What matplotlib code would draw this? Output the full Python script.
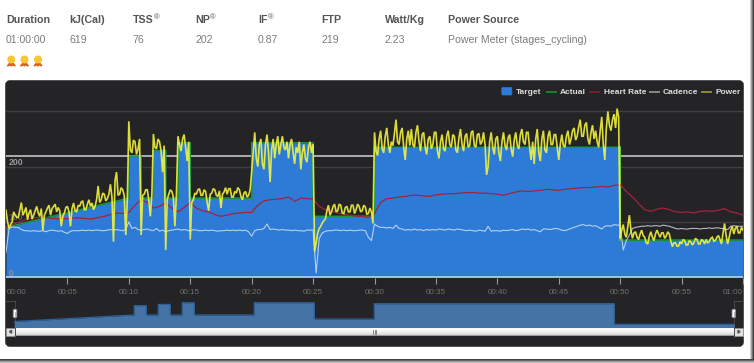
import numpy as np
import matplotlib
matplotlib.use("Agg")
import matplotlib.pyplot as plt
from matplotlib.patches import FancyBboxPatch, Rectangle, Circle, Polygon

plt.rcParams['font.family'] = ['Liberation Sans', 'DejaVu Sans']

# ---- data ----
header_labels = ["Duration", "kJ(Cal)", "TSS", "NP", "IF", "FTP", "Watt/Kg", "Power Source"]
header_reg = [False, False, True, True, True, False, False, False]
header_values = ["01:00:00", "619", "76", "202", "0.87", "219", "2.23", "Power Meter (stages_cycling)"]
xtick_labels = ["00:00", "00:05", "00:10", "00:15", "00:20", "00:25", "00:30",
                "00:35", "00:40", "00:45", "00:50", "00:55", "01:00"]
ytick_values = [0, 100, 200, 300]
ftp = 219

seg_start = [0, 10, 11, 12, 13, 14, 15, 20, 25, 30, 50]
seg_end = [10, 11, 12, 13, 14, 15, 20, 25, 30, 50, 60]
seg_from = [90, 219, 143, 229, 143, 243, 143, 243, 110, 235, 67]
seg_to = [143, 219, 143, 229, 143, 243, 143, 243, 110, 235, 67]

# one value every 7.5 seconds
power = [
    121, 100, 88, 95, 100, 118, 112, 108, 108, 122, 135, 112, 118, 126, 104, 116,
    122, 105, 112, 120, 128, 116, 110, 124, 84, 112, 118, 125, 130, 112, 124, 128,
    132, 118, 126, 120, 92, 110, 116, 126, 128, 118, 92, 124, 134, 120, 118, 130,
    128, 136, 138, 122, 122, 132, 140, 128, 134, 122, 128, 140, 165, 135, 140, 152,
    150, 138, 142, 150, 168, 145, 64, 175, 190, 148, 150, 162, 158, 148, 76, 140,
    282, 230, 225, 248, 245, 222, 232, 250, 76, 148, 150, 158, 158, 140, 110, 150,
    259, 235, 232, 250, 245, 228, 190, 238, 49, 140, 150, 158, 155, 145, 92, 150,
    255, 240, 228, 250, 258, 235, 210, 245, 68, 135, 140, 152, 150, 158, 160, 148,
    148, 158, 155, 135, 120, 150, 152, 160, 158, 148, 146, 156, 125, 150, 154, 162,
    150, 160, 160, 145, 145, 155, 152, 162, 158, 146, 140, 152, 155, 145, 148, 158,
    190, 225, 262, 215, 200, 240, 250, 205, 195, 240, 258, 225, 172, 230, 250, 215,
    240, 255, 222, 240, 255, 235, 230, 245, 215, 240, 250, 225, 205, 235, 225, 245,
    195, 225, 240, 215, 208, 235, 245, 225, 240, 46, 62, 80, 88, 92, 98, 102,
    105, 120, 130, 112, 118, 128, 132, 118, 120, 132, 130, 116, 115, 126, 128, 118,
    118, 130, 130, 115, 122, 132, 128, 118, 120, 130, 127, 114, 115, 125, 118, 97,
    262, 228, 220, 250, 265, 232, 225, 255, 270, 240, 225, 245, 238, 260, 285, 245,
    240, 262, 270, 235, 212, 250, 265, 238, 268, 240, 235, 262, 275, 245, 228, 258,
    262, 235, 222, 250, 255, 232, 240, 262, 262, 228, 215, 245, 258, 232, 228, 255,
    265, 240, 235, 258, 255, 230, 225, 252, 268, 240, 228, 255, 260, 235, 238, 262,
    265, 238, 235, 258, 260, 240, 245, 262, 240, 185, 200, 245, 262, 235, 222, 250,
    255, 225, 210, 245, 262, 238, 230, 252, 258, 232, 218, 248, 262, 238, 232, 258,
    268, 245, 240, 262, 262, 235, 212, 245, 205, 250, 268, 225, 210, 250, 265, 230,
    225, 255, 265, 240, 240, 258, 258, 235, 212, 240, 258, 238, 235, 255, 265, 240,
    250, 265, 270, 248, 255, 272, 285, 255, 255, 275, 280, 250, 240, 262, 275, 250,
    265, 245, 235, 265, 290, 240, 212, 270, 300, 275, 265, 285, 295, 270, 305, 290,
    70, 85, 95, 78, 72, 92, 112, 85, 70, 80, 82, 72, 68, 78, 85, 75,
    72, 62, 60, 74, 82, 72, 66, 78, 85, 78, 72, 80, 80, 70, 74, 82,
    78, 65, 55, 62, 62, 56, 56, 64, 60, 68, 66, 58, 58, 66, 64, 58,
    62, 70, 68, 60, 60, 68, 66, 60, 68, 62, 64, 70, 72, 65, 66, 72,
    75, 68, 60, 80, 97, 75, 60, 72, 85, 92, 78, 88, 92, 80, 80, 90, 85,
]
# one value every 15 seconds
cadence = [
    45, 88, 91, 90, 90, 86, 84, 84, 83, 84, 83, 83, 84, 82, 84, 85,
    84, 83, 84, 81, 79, 83, 84, 84, 84, 85, 84, 85, 84, 85, 85, 84,
    84, 85, 86, 85, 86, 85, 84, 86, 100, 88, 90, 86, 85, 86, 87, 85,
    84, 88, 83, 85, 82, 84, 85, 86, 87, 85, 86, 85, 83, 86, 85, 84,
    84, 85, 84, 85, 84, 83, 84, 84, 85, 84, 85, 84, 85, 84, 85, 82,
    74, 84, 86, 86, 88, 96, 86, 87, 86, 85, 86, 85, 85, 84, 85, 84,
    84, 83, 85, 85, 85, 7, 70, 80, 83, 84, 84, 85, 85, 84, 85, 84,
    85, 84, 84, 85, 85, 84, 72, 66, 96, 92, 90, 90, 89, 90, 88, 94,
    88, 87, 85, 86, 85, 87, 85, 86, 84, 86, 85, 86, 85, 87, 86, 85,
    87, 86, 85, 87, 86, 85, 84, 85, 84, 83, 85, 84, 83, 92, 83, 84,
    84, 83, 85, 84, 85, 86, 84, 85, 87, 86, 87, 85, 86, 84, 82, 87,
    87, 86, 87, 88, 87, 85, 84, 86, 88, 90, 92, 94, 95, 93, 94, 92,
    93, 90, 87, 92, 93, 92, 95, 94, 94, 49, 66, 76, 88, 90, 91, 92,
    92, 93, 92, 93, 93, 92, 94, 93, 92, 90, 88, 87, 88, 87, 87, 88,
    88, 88, 87, 88, 88, 89, 88, 89, 89, 88, 87, 86, 92, 93, 92, 92, 92,
]
# one value every 30 seconds
heart_rate = [
    90, 95, 99, 103, 106, 108, 108, 107, 106, 105, 106, 107, 107, 106, 105, 108,
    110, 113, 116, 115, 117, 130, 140, 135, 125, 128, 134, 125, 118, 126, 135, 125,
    120, 118, 113, 110, 112, 115, 116, 117, 117, 130, 138, 140, 141, 142, 145, 137,
    143, 142, 141, 128, 122, 120, 116, 114, 112, 110, 110, 108, 115, 135, 142, 143,
    145, 146, 148, 148, 147, 146, 149, 150, 151, 151, 152, 153, 153, 152, 152, 151,
    150, 148, 151, 154, 156, 155, 156, 157, 159, 158, 157, 159, 160, 161, 162, 162,
    163, 164, 163, 166, 167, 155, 145, 133, 122, 119, 123, 125, 122, 118, 117, 118,
    116, 119, 120, 119, 121, 124, 118, 116, 112,
]
legend_names = ["Target", "Actual", "Heart Rate", "Cadence", "Power"]

# ---- colours ----
PANEL = "#242426"
BLUE = "#2d7bd6"
GREEN = "#179a3a"
RED = "#a3223f"
YELLOW = "#f6f63c"
TXT_B = "#555555"
TXT = "#7c7c7c"

W, H = 754, 363
fig = plt.figure(figsize=(W / 100, H / 100), dpi=100, facecolor="white")


def px_axes(x0, y0, x1, y1, z=1):
    ax = fig.add_axes([x0 / W, 1 - y1 / H, (x1 - x0) / W, (y1 - y0) / H], zorder=z)
    return ax


base = fig.add_axes([0, 0, 1, 1], zorder=0)
base.set_xlim(0, W)
base.set_ylim(H, 0)
base.axis("off")

# frame shadow on right and bottom of the picture
shade = np.linspace(1, 0.25, 5)[None, :]
base.imshow(shade, extent=(749, 754, 363, 0), cmap="gray", vmin=0, vmax=1, aspect="auto", zorder=1)
base.imshow(np.linspace(0.25, 0.75, 4)[:, None], extent=(0, 754, 363, 359), cmap="gray",
            vmin=0, vmax=1, aspect="auto", zorder=1)

# header
col_x = [6, 69, 132.5, 195, 258, 321, 384.5, 447.5]
for x, lab, reg, val in zip(col_x, header_labels, header_reg, header_values):
    t = base.text(x, 23, lab, fontsize=7.7, fontweight="bold", color=TXT_B, va="baseline", ha="left", zorder=3)
    if reg:
        bb = t.get_window_extent(fig.canvas.get_renderer())
        base.text(bb.x1 + 0.3, 19.5, "®", fontsize=5.5, color=TXT_B, va="baseline", ha="left", zorder=3)
    base.text(x, 43, val, fontsize=7.6, color=TXT, va="baseline", ha="left", zorder=3)

# medals
for mx in [11.3, 24.5, 38]:
    base.add_patch(Polygon([(mx - 4, 66), (mx - 1.5, 63), (mx + 1.5, 63), (mx + 4, 66),
                            (mx + 1, 64.8), (mx, 66), (mx - 1, 64.8)], color="#d4641c", zorder=3))
    base.add_patch(Circle((mx, 59.5), 3.3, color="#f8c537", zorder=4))

# dark panel
base.add_patch(FancyBboxPatch((8, 83), 733, 261, boxstyle="round,pad=0,rounding_size=2",
                              mutation_aspect=1, lw=4, ec=PANEL, fc=PANEL, zorder=2))

# ---- main chart ----
ax = px_axes(6, 81, 743, 277.5, 3)
ax.patch.set_alpha(0)
ax.set_xlim(0, 60)
ax.set_ylim(-0.8, 355)
for s in ax.spines.values():
    s.set_visible(False)
ax.set_xticks([])
ax.set_yticks([])

for v in ytick_values[1:]:
    ax.axhline(v, color="#3f3f41", lw=1, zorder=1)
ax.axhline(ftp, color="#c4c4c4", lw=1.2, zorder=1.5)


def target_xy():
    xs, ys = [], []
    for a, b, f, e in zip(seg_start, seg_end, seg_from, seg_to):
        xs += [a, b]
        ys += [f, e]
    return np.array(xs, float), np.array(ys, float)


tx, ty = target_xy()
ax.fill_between(tx, 0, ty, color=BLUE, lw=0, zorder=2)
ax.plot(tx, ty, color=GREEN, lw=1.1, zorder=3, solid_joinstyle="miter")
ax.plot([seg_start[-1]] * 2, [seg_from[-1], seg_to[-2]], color="#6ad11e", lw=1.2, zorder=3.1)
ax.axhline(0, color="#a8c9f0", lw=1.3, zorder=4)

t_power = np.arange(len(power)) * 0.125
t30 = np.arange(len(heart_rate)) * 0.5
ax.plot(t30, heart_rate, color=RED, lw=0.9, zorder=5)
ax.plot(np.arange(len(cadence)) * 0.25, cadence, color="#e4ecf8", alpha=0.75, lw=0.8, zorder=6)
ax.plot(t_power, power, color=YELLOW, alpha=0.88, lw=1.2, zorder=7, solid_joinstyle="miter")

for v, a in [(0, 0.8), (100, 0.45), (200, 1)]:
    ax.annotate(str(v), xy=(0, v), xytext=(2, 1), textcoords="offset points", fontsize=6.3,
                fontweight="bold", color="#9a9a9a", alpha=a, va="baseline", ha="left", zorder=8 if v == 200 else 4.5)

# x ticks and labels drawn from the same time scale
for i, lab in enumerate(xtick_labels):
    m = i * 5
    px = 6 + m * 737 / 60
    if i > 0:
        base.plot([px, px], [278, 284], color="#9a9a9a", lw=0.8, zorder=3, solid_capstyle="butt")
    ha = "left" if i == 0 else ("right" if i == 12 else "center")
    base.text(px + (0.5 if i == 0 else 0), 294, lab, fontsize=5.8, color="#727272", ha=ha,
              va="baseline", zorder=3)

# legend
base.add_patch(FancyBboxPatch((501.8, 87.5), 10, 7.5, boxstyle="round,pad=0,rounding_size=1",
                              lw=0.5, ec=BLUE, fc=BLUE, zorder=3))
base.text(515.5, 94, legend_names[0], fontsize=6, fontweight="bold", color="#dddddd", zorder=3)
leg = [(546.3, 560, 1, GREEN), (589, 603.7, 2, "#8e1c2e"), (649.3, 663, 3, "#a0a0a0"), (701.3, 715, 4, "#a8a82e")]
for lx, tx0, idx, c in leg:
    base.plot([lx, lx + 10.7], [91.5, 91.5], color=c, lw=1.1, zorder=3, solid_capstyle="butt")
    base.text(tx0, 94, legend_names[idx], fontsize=6, fontweight="bold", color="#dddddd", zorder=3)

# ---- navigator ----
nav = px_axes(14.2, 298, 734.2, 327.3, 3)
nav.patch.set_alpha(0)
nav.set_xlim(0, 60)
nav.set_ylim(43, 43 + 29.3 / 0.123)
nav.axis("off")
nav.fill_between(tx, 0, ty, color="#4573a6", lw=0, zorder=2)
nav.plot(tx, ty, color="#2d6099", lw=0.9, zorder=3)

# navigator handles
for hx, fx in [(15, 6), (733.8, 733.8)]:
    base.plot([fx, fx + 9.2, ] if fx == 6 else [733.8, 743], [300.7, 300.7], color="#4a4a4a", lw=0.7, zorder=4)
    base.plot([hx, hx], [300.7, 337], color="#4a4a4a", lw=0.7, zorder=4)
    base.add_patch(FancyBboxPatch((hx - 1.8, 309.3), 3.6, 8.4, boxstyle="round,pad=0,rounding_size=1.2",
                                  lw=0.6, ec="#888888", fc="white", zorder=5))
    base.plot([hx, hx], [311.5, 315.5], color="#aaaaaa", lw=0.6, zorder=6)

# scrollbar
grad = np.array([0.8, 0.97, 0.98, 0.96, 0.94, 0.92, 0.89, 0.85, 0.6])[:, None]
base.imshow(grad, extent=(15, 734, 336, 327.5), cmap="gray", vmin=0, vmax=1, aspect="auto", zorder=3)
base.add_patch(Rectangle((6, 327.5), 9, 8.5, fc="#e0e0e0", ec="#999999", lw=0.4, zorder=3))
base.add_patch(Rectangle((734, 327.5), 9, 8.5, fc="#e0e0e0", ec="#999999", lw=0.4, zorder=3))
base.add_patch(Polygon([(9.5, 331.7), (11.5, 330.2), (11.5, 333.2)], color="#555555", zorder=4))
base.add_patch(Polygon([(740, 331.7), (738, 330.2), (738, 333.2)], color="#555555", zorder=4))
for gx in [373, 374.5, 376]:
    base.plot([gx, gx], [330, 334], color="#777777", lw=0.6, zorder=4)

base.set_xlim(0, W)
base.set_ylim(H, 0)
fig.savefig("out.png", dpi=100, facecolor="white")
